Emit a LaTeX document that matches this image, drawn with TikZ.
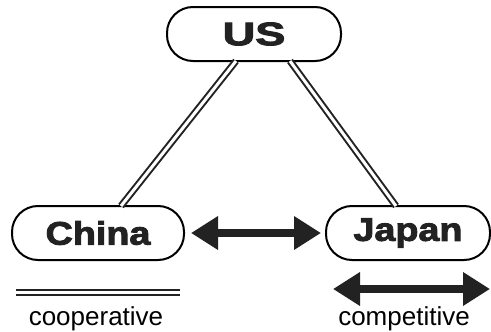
\documentclass[tikz,border=0pt]{standalone}
\usepackage{fontspec}
\setmainfont{Liberation Sans}
\newfontfamily\heavy[FakeBold=2.8,FakeStretch=1.16]{Liberation Sans Bold}
\usetikzlibrary{arrows.meta}
\definecolor{ink}{RGB}{34,34,34}
\begin{document}
\begin{tikzpicture}[x=1pt,y=-1pt,
  country/.style={draw=black, line width=2pt, rounded corners=26pt, minimum height=54pt, inner sep=0pt, text=ink, font=\heavy\fontsize{32.5}{32}\selectfont},
  coop/.style={draw=ink, line width=2pt, double=white, double distance=3pt},
  comp/.style={draw=ink, fill=ink, line width=7.5pt, {Triangle[length=27pt,width=32pt]}-{Triangle[length=27pt,width=32pt]}},
  legendtext/.style={font=\fontsize{26}{26}\selectfont, inner sep=0pt}]
\useasboundingbox (0,0) rectangle (491,332);
\node[country, minimum width=174pt] (us) at (254,34) {\scalebox{1.2}[1]{US}};
\node[country, minimum width=172pt] (china) at (98,233) {China};
\node[country, minimum width=164pt] (japan) at (408,233) {Japan};
\draw[coop] (236,61) -- (121,206);
\draw[coop] (290,61) -- (396,206);
\path (china.east) ++(6,0) coordinate (ca);
\path (japan.west) ++(-4,0) coordinate (ja);
\draw[comp] (ca) -- (ja);
\coordinate (c1) at (16,292);
\coordinate (c2) at (180,292);
\draw[coop] (c1) -- (c2);
\coordinate (k1) at (333,289);
\coordinate (k2) at (490,289);
\draw[comp] (k1) -- (k2);
\node[legendtext] (coopt) at (96,319) {cooperative};
\node[legendtext] (compt) at (404,319) {competitive};
\end{tikzpicture}
\end{document}
